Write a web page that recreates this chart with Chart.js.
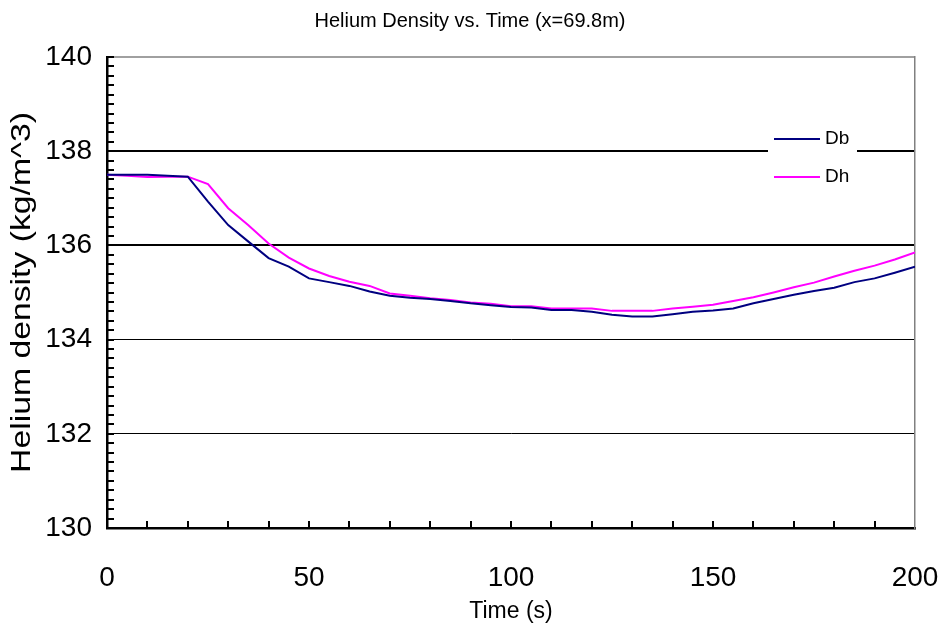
<!DOCTYPE html>
<html>
<head>
<meta charset="utf-8">
<script src="https://cdn.jsdelivr.net/npm/chart.js@4.4.1/dist/chart.umd.min.js"></script>
<style>
  body { margin: 0; background: #fff; }
  #wrap { width: 940px; height: 636px; }
</style>
</head>
<body>
<div id="wrap"><canvas id="myChart" width="940" height="636"></canvas></div>
<script>
const times = [0, 5, 10, 15, 20, 25, 30, 35, 40, 45, 50, 55, 60, 65, 70, 75, 80, 85, 90, 95, 100,
    105, 110, 115, 120, 125, 130, 135, 140, 145, 150, 155, 160, 165, 170, 175, 180, 185, 190, 195, 200];
const dbValues = [137.50, 137.50, 137.50, 137.48, 137.46, 136.93, 136.43, 136.08, 135.73, 135.55, 135.30,
    135.22, 135.14, 135.02, 134.93, 134.89, 134.86, 134.82, 134.77, 134.73, 134.69,
    134.68, 134.63, 134.63, 134.59, 134.53, 134.49, 134.49, 134.54, 134.59, 134.62,
    134.66, 134.77, 134.86, 134.95, 135.03, 135.10, 135.22, 135.30, 135.42, 135.55];
const dhValues = [137.50, 137.48, 137.45, 137.46, 137.46, 137.30, 136.79, 136.43, 136.04, 135.74, 135.51,
    135.35, 135.23, 135.14, 134.98, 134.93, 134.88, 134.84, 134.79, 134.76, 134.71,
    134.71, 134.66, 134.66, 134.66, 134.61, 134.61, 134.61, 134.66, 134.70, 134.74,
    134.82, 134.90, 135.00, 135.11, 135.21, 135.34, 135.46, 135.57, 135.70, 135.85];
const seriesNames = ['Db', 'Dh'];
const seriesColors = ['#000080', '#ff00ff'];
const yTicks = [130, 132, 134, 136, 138, 140];
const xTicks = [0, 50, 100, 150, 200];
const yTitle = 'Helium density (kg/m^3)';

const FONT = '"Liberation Sans", Arial, sans-serif';

function toPoints(vals) {
    return times.map((t, i) => ({x: t, y: vals[i]}));
}

// minor ticks, grey frame, stretched y title and the legend box
const extras = {
    id: 'extras',
    afterDraw(chart) {
        const ctx = chart.ctx;
        const a = chart.chartArea;
        const xs = chart.scales.x, ys = chart.scales.y;
        ctx.save();
        ctx.strokeStyle = '#808080';
        ctx.lineWidth = 1.5;
        ctx.beginPath();
        ctx.moveTo(a.left, a.top);
        ctx.lineTo(a.right, a.top);
        ctx.stroke();

        ctx.strokeStyle = '#000';
        ctx.lineWidth = 2;
        ctx.beginPath();
        for (let v = 130; v <= 140.001; v += 0.2) {
            const py = Math.round(ys.getPixelForValue(v));
            ctx.moveTo(a.left, py);
            ctx.lineTo(a.left + 7, py);
        }
        for (let t = 10; t < 200; t += 10) {
            const px = Math.round(xs.getPixelForValue(t));
            ctx.moveTo(px, a.bottom);
            ctx.lineTo(px, a.bottom - 7);
        }
        ctx.stroke();

        // y title, a little stretched along its baseline like the original
        ctx.save();
        ctx.translate(23, (a.top + a.bottom) / 2);
        ctx.rotate(-Math.PI / 2);
        ctx.scale(1.25, 1);
        ctx.fillStyle = '#000';
        ctx.font = '27px ' + FONT;
        ctx.textAlign = 'center';
        ctx.textBaseline = 'middle';
        ctx.fillText(yTitle, 0, 0);
        ctx.restore();

        // legend
        const lx = 768, ly = 128;
        ctx.fillStyle = '#fff';
        ctx.fillRect(lx, ly, 89, 66);
        ctx.font = '19px ' + FONT;
        ctx.textBaseline = 'middle';
        ctx.textAlign = 'left';
        chart.data.datasets.forEach((ds, i) => {
            const yy = ly + 11 + i * 38;
            ctx.strokeStyle = ds.borderColor;
            ctx.lineWidth = 2;
            ctx.beginPath();
            ctx.moveTo(lx + 6, yy);
            ctx.lineTo(lx + 52, yy);
            ctx.stroke();
            ctx.fillStyle = '#000';
            ctx.fillText(ds.label, lx + 57, yy);
        });
        ctx.restore();
    }
};

const config = {
    type: 'line',
    data: {
        datasets: [{
            label: seriesNames[0],
            data: toPoints(dbValues),
            borderColor: seriesColors[0],
            backgroundColor: seriesColors[0],
            borderWidth: 2,
            pointRadius: 0,
            tension: 0
        }, {
            label: seriesNames[1],
            data: toPoints(dhValues),
            borderColor: seriesColors[1],
            backgroundColor: seriesColors[1],
            borderWidth: 2,
            pointRadius: 0,
            tension: 0
        }]
    },
    options: {
        responsive: false,
        animation: false,
        layout: {autoPadding: false, padding: 0},
        plugins: {
            legend: {display: false},
            tooltip: {enabled: false},
            title: {
                display: true,
                text: 'Helium Density vs. Time (x=69.8m)',
                color: '#000',
                font: {family: FONT, size: 20, weight: 'normal'},
                padding: {top: 9, bottom: 24}
            }
        },
        scales: {
            x: {
                type: 'linear',
                min: 0,
                max: 200,
                afterBuildTicks(scale) {
                    scale.ticks = xTicks.map(v => ({value: v}));
                },
                afterFit(scale) {
                    scale.height = 108;
                    scale.paddingLeft = 0;
                    scale.paddingRight = 0;
                },
                grid: {display: false, drawTicks: false},
                border: {display: true, color: '#000', width: 2.5},
                ticks: {color: '#000', padding: 33, maxRotation: 0,
                    font: {family: FONT, size: 28}},
                title: {display: true, text: 'Time (s)', color: '#000',
                    font: {family: FONT, size: 23}, padding: {top: 0, bottom: 11}}
            },
            y: {
                min: 130,
                max: 140,
                afterBuildTicks(scale) {
                    scale.ticks = yTicks.map(v => ({value: v}));
                },
                afterFit(scale) {
                    scale.width = 107;
                    scale.paddingTop = 0;
                    scale.paddingBottom = 0;
                },
                grid: {
                    drawTicks: false,
                    color: c => (c.tick && c.tick.value > 130 && c.tick.value < 140) ? '#000' : 'rgba(0,0,0,0)',
                    lineWidth: c => (c.tick && c.tick.value >= 136) ? 2 : 1
                },
                border: {display: true, color: '#000', width: 2.5},
                ticks: {color: '#000', padding: 15, font: {family: FONT, size: 28}}
            },
            yR: {
                position: 'right',
                min: 0,
                max: 1,
                afterFit(scale) {
                    scale.width = 25;
                    scale.paddingTop = 0;
                    scale.paddingBottom = 0;
                },
                grid: {drawOnChartArea: false, drawTicks: false},
                border: {display: true, color: '#808080', width: 1.5},
                ticks: {display: false}
            }
        }
    },
    plugins: [extras]
};

const myChart = new Chart(document.getElementById('myChart'), config);
</script>
</body>
</html>
